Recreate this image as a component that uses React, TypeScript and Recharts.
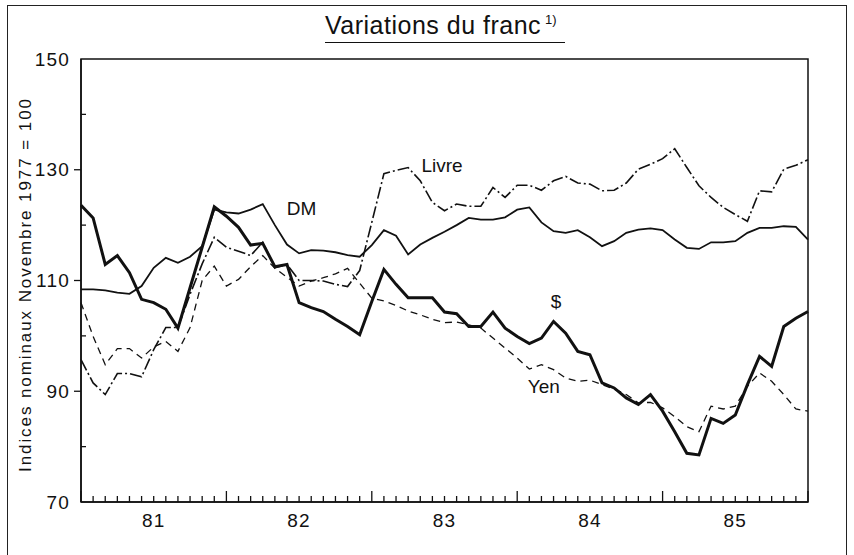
import React from 'react';
import { LineChart, Line, XAxis, YAxis, ReferenceArea, ReferenceDot } from 'recharts';

// Monthly index values, Jan 1981 .. Jan 1986 (61 points)
const dollar = [123.6, 121.3, 112.9, 114.5, 111.4, 106.6, 106.0, 104.8, 101.4, 108.7, 116.0, 123.3, 121.6, 119.6, 116.4, 116.7, 112.5, 112.9, 106.0, 105.1, 104.4, 103.0, 101.7, 100.2, 106.2, 112.0, 109.3, 106.9, 106.9, 106.9, 104.3, 104.0, 101.7, 101.7, 104.3, 101.4, 99.9, 98.6, 99.6, 102.6, 100.5, 97.2, 96.6, 91.5, 90.6, 88.8, 87.6, 89.4, 86.4, 82.7, 78.8, 78.5, 85.1, 84.2, 85.7, 91.2, 96.3, 94.5, 101.7, 103.2, 104.4];
const dm = [108.4, 108.4, 108.2, 107.8, 107.6, 109.0, 112.3, 114.1, 113.2, 114.3, 116.2, 122.8, 122.3, 122.1, 122.8, 123.8, 120.0, 116.5, 114.9, 115.5, 115.4, 115.1, 114.6, 114.3, 116.4, 119.1, 118.1, 114.7, 116.5, 117.7, 118.8, 120.0, 121.3, 121.0, 121.0, 121.4, 122.8, 123.2, 120.5, 118.9, 118.6, 119.1, 117.8, 116.2, 117.1, 118.6, 119.2, 119.4, 119.1, 117.4, 115.9, 115.7, 116.9, 116.9, 117.1, 118.6, 119.5, 119.5, 119.8, 119.7, 117.4];
const livre = [95.7, 91.5, 89.4, 93.2, 93.2, 92.6, 97.5, 101.5, 101.5, 107.5, 113.0, 117.8, 116.0, 115.3, 114.5, 116.9, 112.3, 112.9, 110.0, 110.0, 109.9, 109.3, 108.9, 111.8, 120.5, 129.3, 129.9, 130.4, 128.0, 124.1, 122.6, 123.8, 123.4, 123.4, 126.8, 125.0, 127.2, 127.2, 126.3, 128.0, 128.8, 127.6, 127.4, 126.2, 126.3, 127.6, 130.1, 131.0, 132.0, 133.8, 130.4, 127.1, 125.0, 123.2, 121.9, 120.7, 126.2, 126.0, 130.1, 130.8, 131.8];
const yen = [106.0, 99.9, 94.8, 97.7, 97.7, 96.0, 98.0, 99.0, 97.2, 101.5, 110.0, 112.6, 109.0, 110.2, 112.5, 114.5, 112.2, 110.6, 109.0, 109.9, 110.5, 111.2, 112.2, 109.5, 106.8, 106.3, 105.5, 104.5, 103.8, 103.0, 102.4, 102.5, 102.0, 101.4, 99.6, 97.8, 96.0, 94.0, 94.8, 93.9, 92.4, 91.8, 92.0, 91.2, 90.4, 89.4, 87.9, 88.0, 87.0, 85.4, 83.6, 82.7, 87.3, 86.8, 87.3, 90.9, 93.3, 91.8, 89.4, 86.8, 86.4];

const yearLabels = ['81', '82', '83', '84', '85'];
const yTicks = [70, 80, 90, 100, 110, 120, 130, 140, 150];
const yMajor = [90, 110, 130];
const yLabelled = [70, 90, 110, 130, 150];

const data = dollar.map((v, i) => ({ m: i, dollar: v, dm: dm[i], livre: livre[i], yen: yen[i] }));
const monthTicks = data.map((d) => d.m);

const FONT = '"Liberation Sans", Arial, sans-serif';

const XTick = (props: any) => {
  const { x, y, payload } = props;
  const m = payload.value as number;
  const isYear = m % 12 === 0;
  const label = m % 12 === 6 ? yearLabels[Math.floor(m / 12)] : null;
  return (
    <g>
      <line x1={x} x2={x} y1={y} y2={y - (isYear ? 11 : 6)} stroke="#111" strokeWidth={1.3} />
      {label && (
        <text x={x} y={y + 25} textAnchor="middle" fontSize={19} letterSpacing={1.2} fill="#111" fontFamily={FONT}>
          {label}
        </text>
      )}
    </g>
  );
};

const YTick = (props: any) => {
  const { x, y, payload } = props;
  const v = payload.value as number;
  const major = yMajor.includes(v);
  const labelled = yLabelled.includes(v);
  return (
    <g>
      {major && <line x1={x - 7} x2={x} y1={y} y2={y} stroke="#111" strokeWidth={1.3} />}
      {!labelled && <line x1={x} x2={x + 5} y1={y} y2={y} stroke="#111" strokeWidth={1.3} />}
      {labelled && (
        <text x={x - 11} y={y + 6.5} textAnchor="end" fontSize={19} letterSpacing={1.2} fill="#111" fontFamily={FONT}>
          {v}
        </text>
      )}
    </g>
  );
};

const YTitle = (props: any) => {
  const vb = props.viewBox || { x: 21, y: 59, width: 60, height: 443 };
  const cx = 25;
  const cy = vb.y + vb.height / 2 + 5;
  return (
    <text
      x={cx}
      y={cy}
      transform={`rotate(-90 ${cx} ${cy})`}
      textAnchor="middle"
      dominantBaseline="central"
      fontSize={17}
      fill="#111"
      fontFamily={FONT}
      textLength={373}
      lengthAdjust="spacing"
    >
      Indices nominaux Novembre 1977 = 100
    </text>
  );
};

const seriesLabel = (value: string) => ({
  value,
  position: 'center' as const,
  fill: '#111',
  fontSize: 19,
  fontFamily: FONT,
});

export default function App() {
  return (
    <div style={{ position: 'absolute', left: 0, top: 0, width: 854, height: 555, background: '#fff', fontFamily: FONT, overflow: 'hidden' }}>
      <div
        style={{
          position: 'absolute',
          left: 7,
          top: 5,
          width: 838,
          height: 560,
          borderTop: '1.5px solid #222',
          borderLeft: '1.5px solid #222',
          borderRight: '1.5px solid #222',
        }}
      />
      <div
        style={{
          position: 'absolute',
          left: 325,
          top: 10,
          width: 240,
          height: 32,
          borderBottom: '1.5px solid #111',
          whiteSpace: 'nowrap',
          color: '#111',
        }}
      >
        <span style={{ fontSize: 25, letterSpacing: 0.5, lineHeight: '30px' }}>Variations du franc</span>
        <span style={{ fontSize: 13, verticalAlign: 'top', marginLeft: 4, lineHeight: '20px' }}>1)</span>
      </div>
      <LineChart
        width={854}
        height={555}
        data={data}
        margin={{ top: 59, right: 46, bottom: 23, left: 21 }}
        style={{ position: 'absolute', left: 0, top: 0 }}
      >
        <XAxis
          dataKey="m"
          type="number"
          domain={[0, 60]}
          ticks={monthTicks}
          interval={0}
          tickSize={0}
          tickMargin={0}
          tickLine={false}
          tick={<XTick />}
          height={30}
          axisLine={{ stroke: '#111', strokeWidth: 1.5 }}
        />
        <YAxis
          type="number"
          domain={[70, 150]}
          ticks={yTicks}
          interval={0}
          tickSize={0}
          tickMargin={0}
          tickLine={false}
          tick={<YTick />}
          width={60}
          axisLine={{ stroke: '#111', strokeWidth: 1.5 }}
          label={{ content: (p: any) => <YTitle {...p} /> }}
        />
        <ReferenceArea x1={0} x2={60} y1={70} y2={150} fill="none" stroke="#111" strokeWidth={1.5} ifOverflow="visible" />
        <Line dataKey="yen" stroke="#111" strokeWidth={1.3} strokeDasharray="7 5" dot={false} isAnimationActive={false} />
        <Line dataKey="livre" stroke="#111" strokeWidth={1.6} strokeDasharray="12 3 2 3" dot={false} isAnimationActive={false} />
        <Line dataKey="dm" stroke="#111" strokeWidth={1.8} dot={false} isAnimationActive={false} />
        <Line dataKey="dollar" stroke="#111" strokeWidth={3} dot={false} isAnimationActive={false} />
        <ReferenceDot x={18.2} y={123.0} r={0} stroke="none" fill="none" label={seriesLabel('DM')} />
        <ReferenceDot x={29.8} y={130.8} r={0} stroke="none" fill="none" label={seriesLabel('Livre')} />
        <ReferenceDot x={39.2} y={106.2} r={0} stroke="none" fill="none" label={seriesLabel('$')} />
        <ReferenceDot x={38.2} y={90.9} r={0} stroke="none" fill="none" label={seriesLabel('Yen')} />
      </LineChart>
    </div>
  );
}
